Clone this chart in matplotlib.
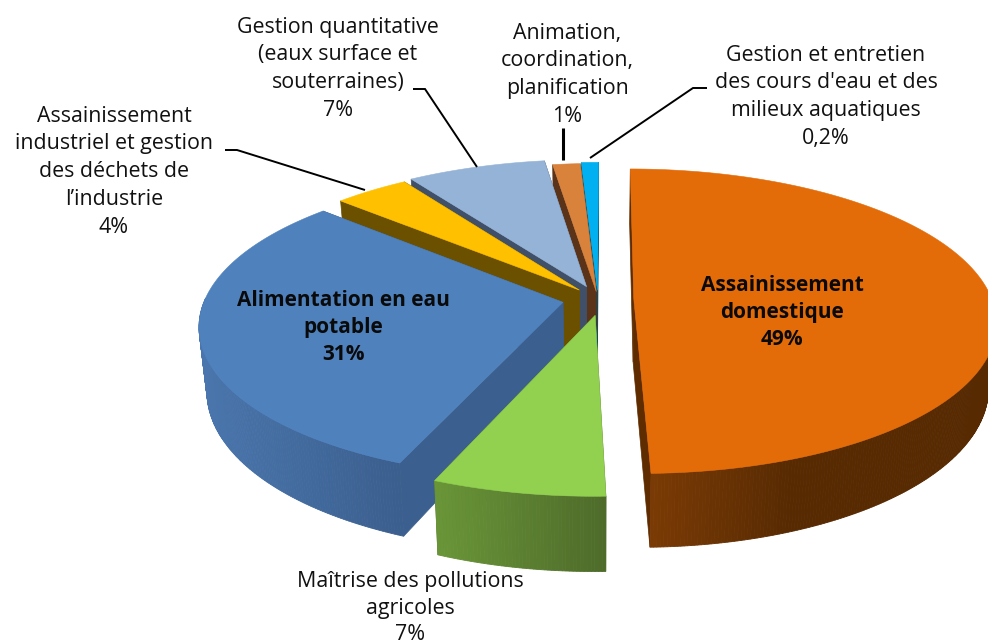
import numpy as np
import matplotlib
matplotlib.use("Agg")
import matplotlib.pyplot as plt
from matplotlib.colors import to_rgb

# slices clockwise from the back of the pie, share as drawn
names = ["domestique", "agricole", "potable", "industrie", "quantitative", "animation", "entretien"]
shares = [49.53, 6.61, 30.47, 3.89, 7.2, 1.42, 0.89]
explode = [0.10, 0.11, 0.10, 0.08, 0.09, 0.05, 0.06]
nudge = [0, 0.012, 0, 0, 0, 0, 0]
top_colors = ["#E36C09", "#92D050", "#4F81BD", "#FFC000", "#95B3D7", "#D8823C", "#00B0F0"]
side_colors = ["#5F2C00", "#4E6B2A", "#3B5F8E", "#6B5000", "#3F5068", "#5A3318", "#0B4F66"]
wall_left = ["#803D05", "#6A9638", "#4A76AD", "#6B5000", "#3F5068", "#5A3318", "#0B4F66"]
wall_right = ["#572A02", "#4E6B2A", "#3B5F8E", "#6B5000", "#3F5068", "#5A3318", "#0B4F66"]
wall_span = [0.45, 1, 1, 1, 1, 1, 1]
draw_order = [6, 5, 4, 3, 2, 0, 1]

labels = [
    (["Gestion quantitative", "(eaux surface et", "souterraines)", "7%"], 338, 27, 27.8),
    (["Animation,", "coordination,", "planification", "1%"], 567, 33, 27.8),
    (["Gestion et entretien", "des cours d'eau et des", "milieux aquatiques", "0,2%"], 826, 55, 27.8),
    (["Assainissement", "industriel et gestion", "des déchets de", "l’industrie", "4%"], 114, 116, 27.8),
    (["Maîtrise des pollutions", "agricoles", "7%"], 410, 582, 26.5),
]
bold_labels = [
    (["Assainissement", "domestique", "49%"], 782, 285),
    (["Alimentation en eau", "potable", "31%"], 343, 300),
]
leader_x = [[225, 237, 365], [413, 425, 477], [563, 563], [707, 693, 590]]
leader_y = [[150, 150, 190], [89, 89, 167], [128, 160], [88, 88, 158]]
leader_w = [1.4, 1.4, 2.2, 1.4]

cx, cy, a, b, k, h = 598, 299, 358, 149, 0.147, 63


def project(u, v, z=0.0):
    s = 1 / (1 - k * v)
    x = cx + a * u * s * (1 - 0.02 * z)
    y = cy + b * v * s + h * z * s
    return x, y


def mix(c1, c2, t):
    c1, c2 = np.array(to_rgb(c1)), np.array(to_rgb(c2))
    return tuple(c1 + (c2 - c1) * t)


fig = plt.figure(figsize=(9.88, 6.44), dpi=100)
ax = fig.add_axes([0, 0, 1, 1])
ax.set_xlim(0, 988)
ax.set_ylim(644, 0)
ax.axis("off")

angles = np.cumsum([0] + shares) / sum(shares) * 360 + 0.2

for i in draw_order:
    t0, t1 = np.radians(angles[i]), np.radians(angles[i + 1])
    mid = (t0 + t1) / 2
    u0, v0 = explode[i] * np.sin(mid) + nudge[i], -explode[i] * np.cos(mid)
    th = np.linspace(t0, t1, max(int((t1 - t0) * 120), 2))
    u = u0 + np.sin(th)
    v = v0 - np.cos(th)

    # flat side faces
    for ue, ve in ((u[0], v[0]), (u[-1], v[-1])):
        uq = np.array([u0, ue, ue, u0])
        vq = np.array([v0, ve, ve, v0])
        zq = np.array([0, 0, 1, 1])
        xq, yq = project(uq, vq, zq)
        ax.fill(xq, yq, color=side_colors[i], lw=0.5)

    # rim, front part only
    xt, yt = project(u, v)
    xb, yb = project(u, v, 1)
    span = max(xt.max() - xt.min(), 1)
    for j in range(len(th) - 1):
        if v[j] < 0 and v[j + 1] < 0:
            continue
        f = min(1, (xt[j] - xt.min()) / span / wall_span[i])
        c = mix(wall_left[i], wall_right[i], f)
        ax.fill([xt[j], xt[j + 1], xb[j + 1], xb[j]], [yt[j], yt[j + 1], yb[j + 1], yb[j]],
                color=c, lw=0.6)

    # top face
    xa, ya = project(u0, v0)
    ax.fill(np.r_[xa, xt], np.r_[ya, yt], color=top_colors[i], lw=0.4)

for xs, ys, w in zip(leader_x, leader_y, leader_w):
    ax.plot(xs, ys, color="black", lw=w, solid_capstyle="butt", solid_joinstyle="miter")

for lines, x, y, step in labels:
    for n, line in enumerate(lines):
        ax.text(x, y + n * step, line, ha="center", va="center", fontsize=15.4, family="Open Sans", color="#111111")
for lines, x, y in bold_labels:
    for n, line in enumerate(lines):
        ax.text(x, y + n * 27, line, ha="center", va="center", fontsize=15, family="Open Sans",
                fontweight="bold", color="#0A0A0A")

plt.savefig("out.png", dpi=100)
